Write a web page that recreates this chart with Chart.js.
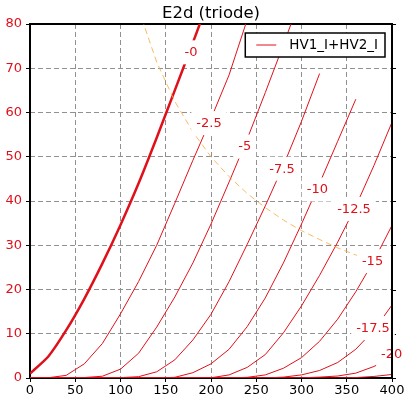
<!DOCTYPE html>
<html>
<head>
<meta charset="utf-8">
<title>E2d (triode)</title>
<script src="https://cdn.jsdelivr.net/npm/chart.js@4.4.1/dist/chart.umd.min.js"></script>
<style>
  html, body { margin: 0; padding: 0; background: #fff; }
  #wrap { width: 413px; height: 399px; }
</style>
</head>
<body>
<div id="wrap"><canvas id="chart" width="413" height="399"></canvas></div>
<script>
// plate voltage samples (V)
const VA = [0, 20, 40, 60, 80, 100, 120, 140, 160, 180, 200, 220, 240, 260, 280, 300, 320, 340, 360, 380, 400];

// plate current (mA) for each grid voltage, null = no sample
const I_G0    = [1.0, 4.8, 10.8, 17.9, 25.9, 34.6, 44.0, 54.3, 65.0, 75.8, 86.8, null, null, null, null, null, null, null, null, null, null];
const I_G2_5  = [0, 0.05, 0.6, 3.2, 7.8, 14.5, 21.8, 30.0, 39.5, 49.2, 58.6, 68.5, 81.0, null, null, null, null, null, null, null, null];
const I_G5    = [0, 0, 0.02, 0.1, 0.4, 2.0, 5.6, 11.5, 18.3, 26.0, 34.8, 44.3, 54.0, 64.5, 75.3, 86.5, null, null, null, null, null];
const I_G7_5  = [0, 0, 0, 0, 0.02, 0.08, 0.3, 1.4, 4.1, 8.6, 14.4, 21.8, 30.2, 38.9, 48.0, 58.0, 68.8, null, null, null, null];
const I_G10   = [0, 0, 0, 0, 0, 0, 0, 0.02, 0.15, 1.2, 3.2, 6.5, 11.6, 18.1, 26.0, 34.8, 44.0, 53.5, 63.0, null, null];
const I_G12_5 = [0, 0, 0, 0, 0, 0, 0, 0, 0, 0.01, 0.05, 0.7, 2.4, 5.3, 10.2, 16.3, 23.2, 30.7, 38.8, 48.0, 57.8];
const I_G15   = [0, 0, 0, 0, 0, 0, 0, 0, 0, 0, 0, 0.01, 0.15, 0.7, 2.2, 4.6, 8.3, 13.3, 19.5, 26.5, 34.5];
const I_G17_5 = [0, 0, 0, 0, 0, 0, 0, 0, 0, 0, 0, 0, 0, 0.02, 0.2, 0.7, 1.7, 3.5, 6.5, 10.8, 16.5];
const I_G20   = [0, 0, 0, 0, 0, 0, 0, 0, 0, 0, 0, 0, 0, 0, 0, 0.05, 0.2, 0.45, 1.1, 2.6, 4.6];
const I_G22_5 = [0, 0, 0, 0, 0, 0, 0, 0, 0, 0, 0, 0, 0, 0, 0, 0, 0, 0.02, 0.1, 0.35, 0.8];

// max plate dissipation trace (dashed)
const PD_VA = [120, 140, 160, 180, 200, 220, 240, 260, 280, 300, 320, 340, 360, 380, 400];
const PD_I  = [83.3, 71.4, 62.5, 55.6, 50.0, 45.5, 41.7, 38.5, 35.7, 33.3, 31.3, 29.4, 27.8, 26.3, 25.0];

// inline curve labels (grid volts) and where they sit (V, mA)
const LABEL_TEXT = ['-0', '-2.5', '-5', '-7.5', '-10', '-12.5', '-15', '-17.5', '-20'];
const LABEL_VA   = [177.9, 197.8, 237.2, 278.5, 317.5, 358.0, 378.5, 379.0, 399.7];
const LABEL_I    = [73.6, 57.6, 52.3, 47.3, 42.6, 38.2, 26.4, 11.3, 5.4];

const TITLE = 'E2d (triode)';
const LEGEND_LABEL = 'HV1_I+HV2_I';

const RED = '#e0101a';
const FONT = 'DejaVu Sans';

function pts(xs, ys) {
  return xs.map((x, i) => ({ x: x, y: ys[i] })).filter(p => p.y !== null);
}

const curves = [I_G0, I_G2_5, I_G5, I_G7_5, I_G10, I_G12_5, I_G15, I_G17_5, I_G20, I_G22_5];

const datasets = curves.map((c, i) => ({
  label: i === 0 ? LEGEND_LABEL : '',
  data: pts(VA, c),
  borderColor: RED,
  borderWidth: i === 0 ? 2.5 : 1,
  pointRadius: 0,
  tension: i === 0 ? 0.2 : 0,
  fill: false,
}));

datasets.unshift({
  label: 'Pd',
  data: pts(PD_VA, PD_I),
  borderColor: 'rgba(246,170,60,0.8)',
  borderWidth: 1,
  borderDash: [6, 4],
  pointRadius: 0,
  tension: 0,
  fill: false,
});

// frame + right ticks under the curves
const framePlugin = {
  id: 'frame',
  beforeDatasetsDraw(chart) {
    const { ctx, chartArea: a } = chart;
    ctx.save();
    ctx.strokeStyle = '#000';
    ctx.lineWidth = 2;
    ctx.strokeRect(a.left, a.top, a.right - a.left, a.bottom - a.top);
    ctx.lineWidth = 1;
    chart.scales.y.ticks.forEach(t => {
      const y = Math.round(chart.scales.y.getPixelForValue(t.value)) + 0.5;
      ctx.beginPath();
      ctx.moveTo(a.right, y);
      ctx.lineTo(a.right + 4, y);
      ctx.stroke();
    });
    ctx.restore();
  }
};

// curve labels with white boxes, legend, title
const textPlugin = {
  id: 'texts',
  afterDatasetsDraw(chart) {
    const { ctx, chartArea: a, scales } = chart;
    ctx.save();
    ctx.font = '13px "' + FONT + '"';
    ctx.textAlign = 'center';
    ctx.textBaseline = 'middle';
    LABEL_TEXT.forEach((t, i) => {
      const x = scales.x.getPixelForValue(LABEL_VA[i]);
      const y = scales.y.getPixelForValue(LABEL_I[i]);
      const w = ctx.measureText(t).width;
      ctx.fillStyle = '#fff';
      ctx.fillRect(x - w / 2 - 5, y - 12, w + 10, 24);
      ctx.fillStyle = RED;
      ctx.fillText(t, x, y + 0.5);
    });

    // right spine stays visible through the last label
    ctx.strokeStyle = '#000';
    ctx.lineWidth = 2;
    ctx.beginPath();
    ctx.moveTo(a.right, a.top);
    ctx.lineTo(a.right, a.bottom);
    ctx.stroke();

    // legend box
    ctx.font = '13.5px "' + FONT + '"';
    const tw = ctx.measureText(LEGEND_LABEL).width;
    const bw = 44 + tw + 7, bh = 24;
    const bx = a.right - 7 - bw, by = a.top + 9;
    ctx.fillStyle = '#fff';
    ctx.fillRect(bx, by, bw, bh);
    ctx.lineWidth = 1.5;
    ctx.strokeRect(bx, by, bw, bh);
    ctx.strokeStyle = RED;
    ctx.lineWidth = 1;
    ctx.beginPath();
    ctx.moveTo(bx + 11, by + bh / 2);
    ctx.lineTo(bx + 31, by + bh / 2);
    ctx.stroke();
    ctx.fillStyle = '#000';
    ctx.textAlign = 'left';
    ctx.fillText(LEGEND_LABEL, bx + 44, by + bh / 2 + 0.5);

    // title
    ctx.font = '16.5px "' + FONT + '"';
    ctx.textAlign = 'center';
    ctx.textBaseline = 'alphabetic';
    ctx.fillText(TITLE, (a.left + a.right) / 2, 18);
    ctx.restore();
  }
};

new Chart(document.getElementById('chart').getContext('2d'), {
  type: 'line',
  data: { datasets: datasets },
  options: {
    responsive: false,
    devicePixelRatio: 1,
    animation: false,
    events: [],
    layout: { padding: { top: 24, right: 21, left: 0, bottom: 0 } },
    plugins: {
      legend: { display: false },
      title: { display: false },
      tooltip: { enabled: false },
    },
    scales: {
      x: {
        type: 'linear',
        min: 0,
        max: 400,
        afterFit: s => { s.height = 21; },
        ticks: {
          stepSize: 50,
          color: '#000',
          font: { family: FONT, size: 13 },
          padding: 1,
          maxRotation: 0,
        },
        grid: { color: '#909090', lineWidth: 1, tickLength: 4, tickColor: '#000', tickBorderDash: [] },
        border: { display: false, dash: [5, 3] },
      },
      y: {
        type: 'linear',
        min: 0,
        max: 80,
        afterFit: s => { s.width = 30; },
        ticks: {
          stepSize: 10,
          color: RED,
          font: { family: FONT, size: 13 },
          padding: 4,
        },
        grid: { color: '#909090', lineWidth: 1, tickLength: 4, tickColor: '#000', tickBorderDash: [] },
        border: { display: false, dash: [5, 3] },
      }
    }
  },
  plugins: [framePlugin, textPlugin]
});
</script>
</body>
</html>
